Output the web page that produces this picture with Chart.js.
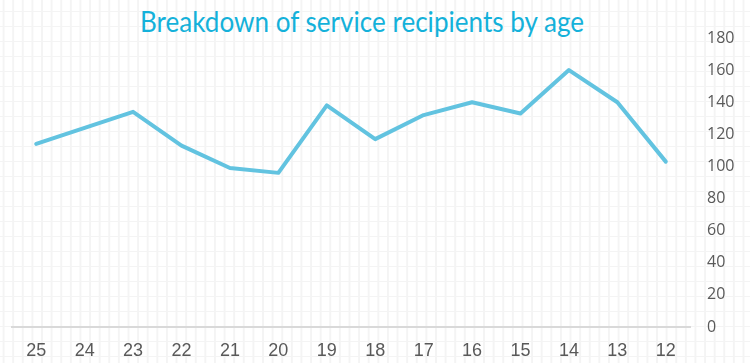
<!DOCTYPE html>
<html>
<head>
<meta charset="utf-8">
<script src="https://cdn.jsdelivr.net/npm/chart.js@4.4.1/dist/chart.umd.min.js"></script>
<style>
  html, body { margin: 0; padding: 0; }
  body {
    width: 750px; height: 363px; overflow: hidden; position: relative;
    background-color: #ffffff;
    background-image:
      linear-gradient(to right, #f4f4f4 0, #f4f4f4 1.5px, transparent 1.5px),
      linear-gradient(to bottom, #f4f4f4 0, #f4f4f4 1.5px, transparent 1.5px);
    background-size: 9.62px 15px, 9.62px 15px;
    background-position: 2.6px 0, 0 11px;
  }
  #title {
    position: absolute; left: 140px; top: 4px;
    color: #14b1da;
    font-family: Lato, "Open Sans", sans-serif;
    font-size: 28px; line-height: 34px; white-space: nowrap;
    transform-origin: 0 0;
  }
  #wrap { position: absolute; left: 0; top: 0; width: 750px; height: 363px; }
</style>
</head>
<body>
<div id="title">Breakdown of service recipients by age</div>
<div id="wrap"><canvas id="c" width="750" height="363"></canvas></div>
<script>
const categories = ['25','24','23','22','21','20','19','18','17','16','15','14','13','12'];
const recipients = [114, 124, 134, 113, 99, 96, 138, 117, 132, 140, 133, 160, 140, 103];
const yTicks = [0, 20, 40, 60, 80, 100, 120, 140, 160, 180];

(function fitTitle() {
  const t = document.getElementById('title');
  const w = t.getBoundingClientRect().width;
  if (w > 0) t.style.transform = 'scaleX(' + (444 / w) + ')';
})();

new Chart(document.getElementById('c'), {
  type: 'line',
  data: {
    labels: categories,
    datasets: [{
      data: recipients,
      borderColor: '#62c3e0',
      borderWidth: 4,
      pointRadius: 0,
      pointHoverRadius: 0,
      fill: false,
      tension: 0,
      borderCapStyle: 'round',
      borderJoinStyle: 'round'
    }]
  },
  options: {
    responsive: false,
    animation: false,
    events: [],
    layout: { padding: { left: 12, top: 38, right: 0, bottom: 0 } },
    plugins: { legend: { display: false }, title: { display: false }, tooltip: { enabled: false } },
    scales: {
      x: {
        offset: true,
        grid: { display: false, drawTicks: false },
        border: { display: true, color: '#d9d9d9', width: 2 },
        ticks: {
          color: '#595959', padding: 13, maxRotation: 0, autoSkip: false,
          font: { family: '"Liberation Sans", Arial, sans-serif', size: 18 }
        },
        afterFit: s => { s.height = 36; }
      },
      y: {
        position: 'right',
        min: 0, max: 180,
        afterBuildTicks: s => { s.ticks = yTicks.map(v => ({ value: v })); },
        grid: { display: false, drawTicks: false },
        border: { display: false },
        ticks: {
          color: '#595959', padding: 17,
          font: { family: '"Open Sans", sans-serif', size: 16 }
        },
        afterFit: s => { s.width = 60; }
      }
    }
  }
});
</script>
</body>
</html>
